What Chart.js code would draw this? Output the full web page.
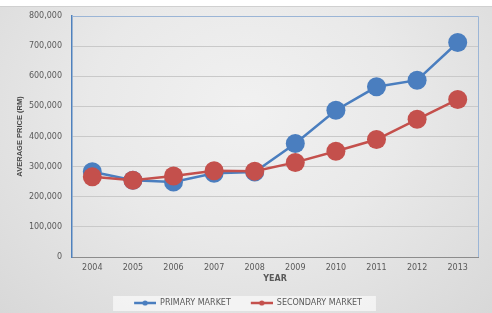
<!DOCTYPE html>
<html>
<head>
<meta charset="utf-8">
<script src="https://cdn.jsdelivr.net/npm/chart.js@4/dist/chart.umd.min.js"></script>
<style>
html,body{margin:0;padding:0;width:492px;height:313px;overflow:hidden;background:#fff;}
#wrap{position:absolute;left:0;top:0;width:492px;height:313px;
background:
linear-gradient(#ffffff,#ffffff) top/100% 6px no-repeat,
radial-gradient(ellipse at 50% 35%, #f1f1f1 0%, #e9e9e9 45%, #d8d8d8 100%);}
#wrap:before{content:"";position:absolute;left:0;right:0;top:6px;height:1px;background:#d0d0d0;}
canvas{position:absolute;left:0;top:0;}
</style>
</head>
<body>
<div id="wrap"><canvas id="c" width="492" height="313"></canvas></div>
<script>
const categories = ['2004','2005','2006','2007','2008','2009','2010','2011','2012','2013'];
const primaryMarket = [283000, 255000, 249000, 278000, 282000, 377000, 487000, 565000, 587000, 712000];
const secondaryMarket = [266000, 255000, 269000, 286000, 285000, 314000, 351000, 390000, 457000, 523000];
const seriesNames = ['PRIMARY MARKET', 'SECONDARY MARKET'];
const yTitle = 'AVERAGE PRICE (RM)';
const xTitle = 'YEAR';

const BLUE = '#4a7ebf';
const RED = '#c4504c';
const LEAD = 18;

function legendIcon(color){
  const cv = document.createElement('canvas');
  cv.width = LEAD + 22; cv.height = 6;
  const g = cv.getContext('2d');
  g.strokeStyle = color; g.lineWidth = 2.5;
  g.beginPath(); g.moveTo(LEAD,3); g.lineTo(LEAD+22,3); g.stroke();
  g.fillStyle = color; g.beginPath(); g.arc(LEAD+11,3,2.6,0,Math.PI*2); g.fill();
  return cv;
}
const icons = [legendIcon(BLUE), legendIcon(RED)];

const frame = {
  id:'frame',
  afterLayout(chart){
    const lg = chart.legend;
    if (lg){ lg.top += 4; lg.bottom += 4; }
  },
  beforeDraw(chart){
    const lg = chart.legend;
    if (lg && lg.legendHitBoxes && lg.legendHitBoxes.length){
      const hb = lg.legendHitBoxes;
      const l = hb[0].left + LEAD - 21, r = hb[hb.length-1].left + hb[hb.length-1].width + 14;
      const cy = hb[0].top + hb[0].height/2;
      const t = cy - 7, b = cy + 8;
      const ctx = chart.ctx;
      ctx.save(); ctx.fillStyle = 'rgba(246,246,246,0.85)';
      ctx.fillRect(l, t, r-l, b-t); ctx.restore();
    }
  },
  beforeDatasetsDraw(chart){
    const a = chart.chartArea, ctx = chart.ctx;
    ctx.save();
    ctx.strokeStyle = '#9bb5d6'; ctx.lineWidth = 1;
    ctx.beginPath();
    ctx.moveTo(a.left, a.top+0.5); ctx.lineTo(a.right+0.5, a.top+0.5); ctx.lineTo(a.right+0.5, a.bottom);
    ctx.stroke();
    ctx.restore();
  }
};

new Chart(document.getElementById('c'), {
  type:'line',
  data:{
    labels: categories,
    datasets:[
      {label: seriesNames[0], data: primaryMarket, borderColor: BLUE, backgroundColor: BLUE,
       pointBackgroundColor: BLUE, pointBorderColor: BLUE, borderWidth: 2.5, pointRadius: 9.5, pointBorderWidth: 0,
       tension: 0, order: 1},
      {label: seriesNames[1], data: secondaryMarket, borderColor: RED, backgroundColor: RED,
       pointBackgroundColor: RED, pointBorderColor: RED, borderWidth: 2.5, pointRadius: 9.5, pointBorderWidth: 0,
       tension: 0, order: 0}
    ]
  },
  options:{
    responsive:false, animation:false,
    layout:{padding:{left:0, right:14, top:16, bottom:0}},
    plugins:{
      tooltip:{enabled:false},
      legend:{
        position:'bottom',
        labels:{
          usePointStyle:true, pointStyleWidth:LEAD+22, boxHeight:6, padding:2,
          color:'#595959', font:{family:'DejaVu Sans', size:8},
          generateLabels(chart){
            return chart.data.datasets.map((d,i)=>({
              text:d.label, pointStyle: icons[i], fillStyle:d.borderColor, strokeStyle:d.borderColor,
              lineWidth:0, fontColor:'#595959', datasetIndex:i, hidden:false
            }));
          }
        }
      }
    },
    scales:{
      x:{
        offset:true,
        grid:{display:false, drawTicks:false},
        border:{display:true, color:'#8c8c8c', width:1},
        ticks:{color:'#595959', font:{family:'DejaVu Sans', size:8}, padding:6, maxRotation:0},
        title:{display:true, text:xTitle, color:'#595959', font:{family:'DejaVu Sans', size:8, weight:'bold'}, padding:{top:2,bottom:9}},
        afterFit(s){ s.height = 36; }
      },
      y:{
        min:0, max:800000,
        grid:{color:'#c9c9c9', lineWidth:1, drawTicks:false},
        border:{display:true, color:'#4f81bd', width:1.5},
        ticks:{stepSize:100000, color:'#595959', font:{family:'DejaVu Sans', size:8}, padding:10,
          callback:(v)=> v.toLocaleString('en-US')},
        title:{display:true, text:yTitle, color:'#4a4a4a', font:{family:"'Liberation Sans Narrow','Liberation Sans'", size:7.5, weight:'bold'}, padding:{top:15,bottom:0}},
        afterFit(s){ s.width = 72; }
      }
    }
  },
  plugins:[frame]
});
</script>
</body>
</html>
